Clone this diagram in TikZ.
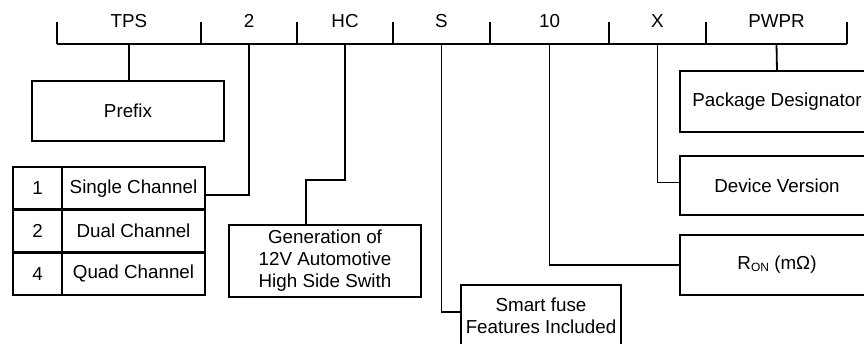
\documentclass[tikz,border=0pt]{standalone}
\usepackage{fontspec}
\setmainfont{Liberation Sans}
\usetikzlibrary{positioning}

\tikzset{
  caja/.style={draw, line width=2.6pt, inner sep=0pt, outer sep=0pt, align=center},
  celda/.style={caja, minimum height=42.67pt},
  linea/.style={line width=1.8pt},
}

\begin{document}
\begin{tikzpicture}[x=1pt, y=-1pt, font=\fontsize{18.8pt}{22pt}\selectfont]
      \clip (0,0) rectangle (864,343);

      % Barra del codigo
      \draw[linea] (57,44) -- (847,44);
      \draw[linea] (847,22) -- (847,44);
      \foreach \a/\b/\t/\nm in {57/201/TPS/pre, 201/297/2/ch, 297/393/HC/gen,
                               393/490/S/feat, 490/609/10/ron, 609/706/X/ver, 706/847/PWPR/pkg}
      {
        \draw[linea] (\a,22) -- (\a,44);
        \node (l\nm) at ({(\a+\b)/2},21) {\t};
        \coordinate (d\nm) at ({(\a+\b)/2},44);
      }

      % Cajas
      \node[caja, minimum width=192pt, minimum height=60pt] (pre) at (128,111) {Prefix};
      \foreach \n/\t [count=\i] in {1/Single Channel, 2/Dual Channel, 4/Quad Channel}
      {
        \node[celda, minimum width=49pt] (num\i) at (37.5,{145.67+42.67*\i}) {\n};
        \node[celda, minimum width=143pt, right=0pt of num\i] (ch\i) {\t};
      }
      \node[caja, minimum width=192pt, minimum height=72pt] (gen) at (325,261)
        {Generation of\\12V Automotive\\High Side Swith};
      \node[caja, minimum width=160pt, minimum height=62pt] (feat) at (541,316)
        {Smart fuse\\Features Included};
      \node[caja, minimum width=194pt, minimum height=61pt] (pkg) at (777,101.5) {Package Designator};
      \node[caja, minimum width=194pt, minimum height=59pt] (ver) at (777,185.5) {Device Version};
      \node[caja, minimum width=194pt, minimum height=60pt] (ron) at (777,265)
        {R\raisebox{-1.5pt}{\fontsize{12pt}{12pt}\selectfont ON} (mΩ)};

      % Conexiones
      \draw[linea] (dpre) -- (dpre |- pre.north);
      \draw[linea] (dch) |- ([yshift=-6.5pt]ch1.east);
      \coordinate (kgen) at (306,180);
      \draw[linea] (dgen) |- (kgen) -- (kgen |- gen.north);
      \draw[linea] (dfeat) |- ([yshift=4pt]feat.west);
      \draw[linea] (dron) |- (ron.west);
      \draw[linea] (dver) |- ([yshift=3pt]ver.west);
      \draw[linea] (dpkg) -- (pkg.north);
\end{tikzpicture}
\end{document}
